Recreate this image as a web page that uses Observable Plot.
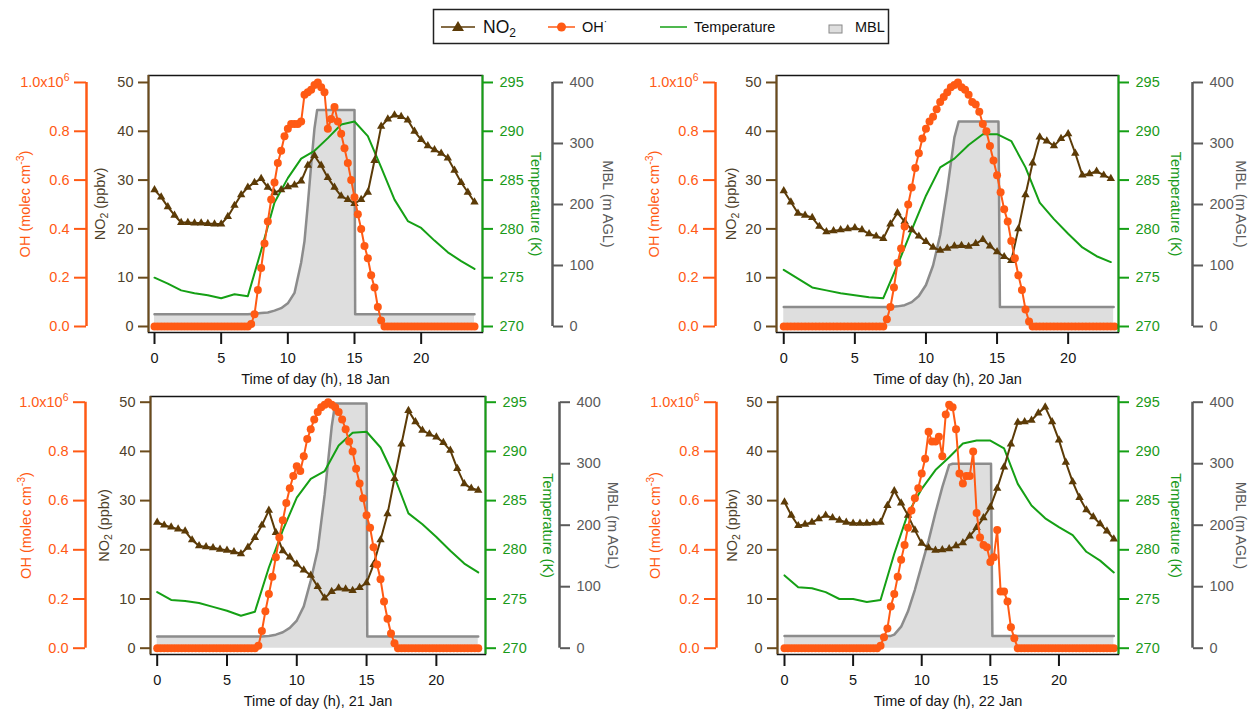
<!DOCTYPE html>
<html><head><meta charset="utf-8">
<script src="https://cdn.jsdelivr.net/npm/d3@7"></script>
<script src="https://cdn.jsdelivr.net/npm/@observablehq/plot@0.6"></script>
<style>
body{margin:0;background:#fff;font-family:"Liberation Sans",Arial,sans-serif;}
#wrap{position:relative;width:1252px;height:711px;overflow:hidden;background:#fff;}
.panel{position:absolute;}
#legend{position:absolute;left:0;top:0;}
</style>
</head><body><div id="wrap"></div>
<script>
// ---------------- DATA ----------------
// NO2 (ppbv), half-hourly
const no2_18 = [28.0,26.5,24.5,22.8,21.3,21.3,21.2,21.2,21.1,21.0,21.0,22.5,24.8,27.0,28.5,29.5,30.3,28.5,27.4,28.0,28.6,29.0,29.8,33.0,35.0,33.0,30.5,28.5,26.7,26.0,25.2,26.0,27.5,34.0,41.0,42.5,43.3,43.0,42.3,40.0,38.3,37.0,36.2,35.5,34.5,32.0,29.5,27.5,25.5];
const no2_20 = [27.8,25.5,23.2,22.8,22.3,20.5,19.4,19.6,19.8,20.0,20.2,19.8,19.0,18.5,18.0,21.0,23.3,21.5,19.8,18.5,17.4,16.2,15.6,16.0,16.5,16.6,16.4,17.0,17.8,16.5,15.3,14.3,13.5,20.0,27.0,33.5,38.8,38.0,37.0,38.5,39.5,35.5,31.0,31.3,31.8,31.0,30.3];
const no2_21 = [25.6,25.0,24.6,24.2,23.8,22.0,20.8,20.6,20.4,20.1,19.9,19.6,19.2,20.5,22.5,25.0,28.0,23.5,19.8,18.5,17.1,15.9,14.8,12.5,10.2,11.5,12.2,12.0,11.7,12.3,13.3,17.0,22.0,27.3,34.5,41.5,48.3,46.0,44.3,43.5,42.9,41.8,40.2,36.5,33.4,32.5,32.1];
const no2_22 = [29.7,27.0,24.9,25.2,25.6,26.3,27.0,26.5,26.0,25.6,25.4,25.4,25.4,25.5,25.6,29.0,32.0,29.5,27.0,24.0,21.3,20.4,19.9,20.0,20.2,20.8,21.4,22.8,24.5,26.5,28.7,32.5,36.8,41.5,45.9,46.0,46.3,47.8,49.0,46.0,42.3,37.8,33.8,30.6,28.1,26.7,25.3,23.8,22.2];

// Temperature (K), hourly
const temp_18 = [275.0,274.4,273.7,273.4,273.2,272.9,273.3,273.1,277.8,282.7,285.2,287.2,288.0,289.3,290.7,291.0,289.5,286.3,283.0,280.8,280.1,278.8,277.6,276.7,275.9];
const temp_20 = [275.8,274.9,274.0,273.7,273.4,273.2,273.0,272.9,276.3,279.9,283.4,286.3,287.2,288.6,289.7,289.7,289.0,286.3,282.7,281.0,279.5,278.1,277.2,276.6];
const temp_21 = [275.7,274.9,274.8,274.6,274.2,273.8,273.3,273.7,278.2,282.0,285.3,287.2,288.0,290.6,291.9,292.0,290.4,287.4,283.7,282.6,281.3,279.9,278.6,277.7];
const temp_22 = [277.4,276.2,276.1,275.7,275.0,275.0,274.7,274.9,279.6,283.7,286.2,288.1,289.4,290.8,291.1,291.1,290.3,286.7,284.5,283.2,282.3,281.5,279.8,278.9,277.7];

// OH (10^6 molec cm-3), quarter-hourly
const oh_18 = [0,0,0,0,0,0,0,0,0,0,0,0,0,0,0,0,0,0,0,0,0,0,0,0,0,0,0,0,
  0,0.01,0.05,0.15,0.24,0.34,0.43,0.52,0.59,0.67,0.72,0.78,0.81,0.83,0.83,0.83,0.84,0.95,0.96,0.97,0.99,1.0,0.98,0.96,0.81,0.85,0.90,0.84,0.79,0.73,0.67,0.60,0.53,0.46,0.40,0.33,0.28,0.21,0.16,0.08,0.025,
  0,0,0,0,0,0,0,0,0,0,0,0,0,0,0,0,0,0,0,0,0,0,0,0,0,0,0,0];
const oh_20 = [0,0,0,0,0,0,0,0,0,0,0,0,0,0,0,0,0,0,0,0,0,0,0,0,0,0,0,0,
  0,0.03,0.08,0.16,0.26,0.32,0.41,0.50,0.57,0.65,0.71,0.77,0.81,0.84,0.86,0.89,0.92,0.94,0.96,0.98,0.99,1.0,0.98,0.97,0.95,0.92,0.91,0.88,0.83,0.80,0.74,0.68,0.62,0.55,0.48,0.43,0.35,0.28,0.21,0.15,0.07,0.02,0,
  0,0,0,0,0,0,0,0,0,0,0,0,0,0,0,0,0,0,0,0,0,0,0];
const oh_21 = [0,0,0,0,0,0,0,0,0,0,0,0,0,0,0,0,0,0,0,0,0,0,0,0,0,0,0,0,
  0,0.01,0.07,0.15,0.22,0.29,0.37,0.45,0.52,0.59,0.65,0.70,0.74,0.72,0.78,0.85,0.89,0.93,0.96,0.98,0.99,1.0,0.99,0.98,0.96,0.93,0.89,0.84,0.80,0.73,0.67,0.61,0.54,0.49,0.41,0.34,0.28,0.19,0.12,0.06,0.02,0,
  0,0,0,0,0,0,0,0,0,0,0,0,0,0,0,0,0,0,0,0,0,0,0];
const oh_22 = [0,0,0,0,0,0,0,0,0,0,0,0,0,0,0,0,0,0,0,0,0,0,0,0,0,0,0,0,
  0.01,0.045,0.08,0.17,0.22,0.29,0.36,0.42,0.49,0.56,0.61,0.65,0.71,0.77,0.88,0.84,0.84,0.86,0.78,0.95,0.99,0.98,0.89,0.71,0.67,0.70,0.70,0.80,0.55,0.45,0.42,0.41,0.35,0.37,0.48,0.23,0.23,0.19,0.085,0.04,0,
  0,0,0,0,0,0,0,0,0,0,0,0,0,0,0,0,0,0,0,0,0,0,0,0,0,0,0,0];

// MBL height (m AGL)
const mblT_18 = [0,7,7.5,8,8.5,9,9.5,10,10.5,11,11.25,11.5,11.75,12,12.2,15,15.05,24];
const mblV_18 = [20,20,21,22,23,26,30,38,55,105,140,200,265,325,355,355,20,20];
const mblT_20 = [0,7.5,8,8.5,9,9.5,10,10.5,11,11.5,12,12.3,15.1,15.2,23.2];
const mblV_20 = [32,32,33,35,40,50,68,100,150,225,310,336,336,32,32];
const mblT_21 = [0,7.5,8,8.5,9,9.5,10,10.5,11,11.5,12,12.5,12.75,15,15.05,23];
const mblV_21 = [19,19,20,22,26,33,45,68,110,160,250,360,398,398,19,19];
const mblT_22 = [0,7.75,8,8.5,9,9.5,10,10.5,11,11.5,12,12.25,15.05,15.15,24];
const mblV_22 = [20,20,22,35,60,95,135,175,220,262,298,300,300,20,20];

const xTicks = [0,5,10,15,20];
const days = ["18 Jan","20 Jan","21 Jan","22 Jan"];

// ---------------- COLOURS ----------------
const C = {no2:"#5c3b07", no2Axis:"#6b4b1c", no2Text:"#4e3f2a", oh:"#ff5a14", temp:"#15a015", tempText:"#1a9a1a", mblLine:"#8c8c8c", mblFill:"#dedede", mblAxis:"#5a5a5a", black:"#151515"};
const FS = 14.5;

const ohY = v => v*50, tY = t => (t-270)*2, mY = m => m/8;

function panel(cfg){
  const {no2, temp, oh, mblT, mblV, xDomain, yDomain, title, width, height, mL, mR, mT, mB, off} = cfg;
  const no2Rows = no2.map((v,i)=>({h:i*0.5, v}));
  const tRows = temp.map((v,i)=>({h:i, v}));
  const ohRows = oh.map((v,i)=>({h:i*0.25, v}));
  const mRows = mblT.map((h,i)=>({h, v:mblV[i]}));
  const yt = [0,10,20,30,40,50];
  return Plot.plot({
    width, height, marginLeft:mL, marginRight:mR, marginTop:mT, marginBottom:mB,
    style:{fontFamily:"Liberation Sans, Arial, sans-serif", fontSize:FS+"px", background:"transparent", overflow:"visible"},
    x:{domain:xDomain, axis:null},
    y:{domain:yDomain, axis:null},
    marks:[
      Plot.areaY(mRows, {x:"h", y:d=>mY(d.v), fill:C.mblFill, curve:"linear"}),
      Plot.lineY(mRows, {x:"h", y:d=>mY(d.v), stroke:C.mblLine, strokeWidth:2.5}),
      Plot.lineY(tRows, {x:"h", y:d=>tY(d.v), stroke:C.temp, strokeWidth:2}),
      Plot.lineY(no2Rows, {x:"h", y:"v", stroke:C.no2, strokeWidth:2}),
      Plot.dot(no2Rows, {x:"h", y:"v", symbol:"triangle", r:3.1, fill:C.no2, stroke:"none"}),
      Plot.lineY(ohRows, {x:"h", y:d=>ohY(d.v), stroke:C.oh, strokeWidth:2}),
      Plot.dot(ohRows, {x:"h", y:d=>ohY(d.v), r:4, fill:C.oh, stroke:"none"}),
      Plot.frame({stroke:C.black, strokeWidth:1.5}),
      // NO2 axis (left)
      Plot.ruleX([xDomain[0]], {stroke:C.no2Axis, strokeWidth:2}),
      Plot.axisY(yt, {anchor:"left", tickSize:10, tickPadding:5, stroke:C.no2Axis, strokeWidth:2, fill:C.no2Text, label:null}),
      Plot.text(["NO₂ (ppbv)"], {frameAnchor:"left", dx:off.no2Label, rotate:-90, textAnchor:"middle", lineAnchor:"middle", fill:C.no2Text, fontSize:FS}),
      // OH axis (outer left)
      Plot.ruleX([xDomain[0]], {y1:0, y2:50, dx:off.ohLine, stroke:C.oh, strokeWidth:2.5}),
      Plot.axisY(yt, {anchor:"left", dx:off.ohLine, tickSize:12, tickPadding:5, stroke:C.oh, strokeWidth:2, fill:C.oh, label:null,
        tickFormat:d => d===50 ? "1.0x10⁶" : (d/50).toFixed(1)}),
      Plot.text(["OH (molec cm⁻³)"], {frameAnchor:"left", dx:off.ohLabel, rotate:-90, textAnchor:"middle", lineAnchor:"middle", fill:C.oh, fontSize:FS}),
      // Temperature axis (right)
      Plot.ruleX([xDomain[1]], {stroke:C.temp, strokeWidth:2}),
      Plot.axisY(yt, {anchor:"right", tickSize:10, tickPadding:7, stroke:C.temp, strokeWidth:2, fill:C.tempText, label:null,
        tickFormat:d => String(270 + d/2)}),
      Plot.text(["Temperature (K)"], {frameAnchor:"right", dx:off.tempLabel, rotate:90, textAnchor:"middle", lineAnchor:"middle", fill:C.tempText, fontSize:FS}),
      // MBL axis (outer right)
      Plot.ruleX([xDomain[1]], {y1:0, y2:50, dx:off.mblLine, stroke:C.mblAxis, strokeWidth:2.5}),
      Plot.axisY([0,12.5,25,37.5,50], {anchor:"right", dx:off.mblLine, tickSize:10, tickPadding:7, stroke:C.mblAxis, strokeWidth:2, fill:C.mblAxis, label:null,
        tickFormat:d => String(d*8)}),
      Plot.text(["MBL (m AGL)"], {frameAnchor:"right", dx:off.mblLabel, rotate:90, textAnchor:"middle", lineAnchor:"middle", fill:C.mblAxis, fontSize:FS}),
      // X axis
      Plot.axisX(xTicks, {tickSize:12, tickPadding:8, stroke:C.black, strokeWidth:2, fill:C.black, label:null}),
      Plot.text([title], {frameAnchor:"bottom", dy:41, lineAnchor:"top", textAnchor:"middle", fill:C.black, fontSize:FS})
    ]
  });
}

// real sub/superscripts for the scientific labels
function richText(svg){
  svg.querySelectorAll("text").forEach(t => {
    const s = t.textContent;
    if (s === "1.0x10⁶") t.innerHTML = '1.0x10<tspan dy="-0.55em" font-size="0.72em">6</tspan>';
    else if (s === "NO₂ (ppbv)") t.innerHTML = 'NO<tspan dy="0.3em" font-size="0.72em">2</tspan><tspan dy="-0.22em"> (ppbv)</tspan>';
    else if (s === "OH (molec cm⁻³)") t.innerHTML = 'OH (molec cm<tspan dy="-0.55em" font-size="0.72em">-3</tspan><tspan dy="0.4em">)</tspan>';
  });
}

const wrap = document.getElementById("wrap");
function place(node, left, top){ richText(node); node.classList.add("panel"); node.style.left = left+"px"; node.style.top = top+"px"; wrap.appendChild(node); }

place(panel({no2:no2_18, temp:temp_18, oh:oh_18, mblT:mblT_18, mblV:mblV_18, xDomain:[-0.45,24.6], yDomain:[-1.23,51.43],
  title:"Time of day (h), "+days[0], width:640, height:330, mL:148, mR:158, mT:20, mB:53,
  off:{ohLine:-62, ohLabel:-123, no2Label:-48, tempLabel:53, mblLine:70, mblLabel:125}}), 0, 55);
place(panel({no2:no2_20, temp:temp_20, oh:oh_20, mblT:mblT_20, mblV:mblV_20, xDomain:[-0.51,23.54], yDomain:[-1.23,51.43],
  title:"Time of day (h), "+days[1], width:626, height:330, mL:150, mR:134, mT:20, mB:53,
  off:{ohLine:-61, ohLabel:-122, no2Label:-45, tempLabel:57, mblLine:74, mblLabel:122}}), 626, 55);
place(panel({no2:no2_21, temp:temp_21, oh:oh_21, mblT:mblT_21, mblV:mblV_21, xDomain:[-0.48,23.52], yDomain:[-1.28,51.16],
  title:"Time of day (h), "+days[2], width:640, height:326, mL:150, mR:155, mT:11, mB:57,
  off:{ohLine:-65, ohLabel:-124, no2Label:-46, tempLabel:62, mblLine:74, mblLabel:127}}), 0, 385);
place(panel({no2:no2_22, temp:temp_22, oh:oh_22, mblT:mblT_22, mblV:mblV_22, xDomain:[-0.51,24.34], yDomain:[-1.28,51.16],
  title:"Time of day (h), "+days[3], width:626, height:326, mL:151, mR:134, mT:11, mB:57,
  off:{ohLine:-61, ohLabel:-122, no2Label:-45, tempLabel:57, mblLine:74, mblLabel:122}}), 626, 385);

// ---------------- LEGEND ----------------
const ns = "http://www.w3.org/2000/svg";
const lg = document.createElementNS(ns, "svg");
lg.setAttribute("id","legend"); lg.setAttribute("width","1252"); lg.setAttribute("height","50");
lg.innerHTML = `
<rect x="433.5" y="9.5" width="455" height="34" fill="#fff" stroke="#222" stroke-width="1.5"/>
<line x1="441" y1="27" x2="475" y2="27" stroke="${C.no2}" stroke-width="1.5"/>
<path d="M458,21 L464,31 L452,31 Z" fill="${C.no2}"/>
<text x="483" y="33" font-family="Liberation Sans, Arial, sans-serif" font-size="17.5" fill="#111">NO<tspan font-size="12" dy="4">2</tspan></text>
<line x1="548" y1="27" x2="575" y2="27" stroke="${C.oh}" stroke-width="1.5"/>
<circle cx="561.5" cy="27" r="4.5" fill="${C.oh}"/>
<text x="582" y="32" font-family="Liberation Sans, Arial, sans-serif" font-size="14.5" fill="#111">OH<tspan font-size="10" dy="-7">·</tspan></text>
<line x1="660" y1="27" x2="687" y2="27" stroke="${C.temp}" stroke-width="1.5"/>
<text x="694" y="32" font-family="Liberation Sans, Arial, sans-serif" font-size="14.5" fill="#111">Temperature</text>
<rect x="829" y="25" width="13" height="8" fill="${C.mblFill}" stroke="#888" stroke-width="1"/>
<text x="855" y="32" font-family="Liberation Sans, Arial, sans-serif" font-size="14.5" fill="#111">MBL</text>`;
wrap.appendChild(lg);
</script>
</body></html>
